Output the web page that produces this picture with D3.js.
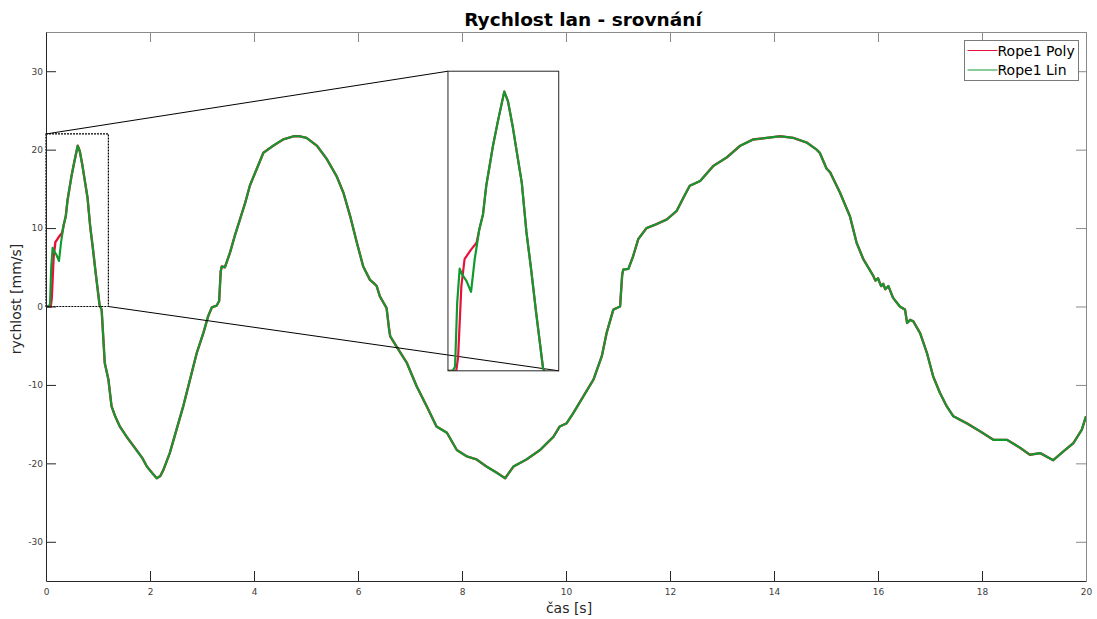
<!DOCTYPE html>
<html>
<head>
<meta charset="utf-8">
<script src="https://cdn.jsdelivr.net/npm/d3@7"></script>
<style>
  body { margin: 0; background: #fff; }
  svg { font-family: "DejaVu Sans", Verdana, sans-serif; }
</style>
</head>
<body>
<div id="chart"></div>
<script>
// start of the run, where the two rope estimates differ
var startTimePoly = [0, 0.09, 0.11, 0.145, 0.18, 0.22, 0.25, 0.31, 0.34];
var startPoly     = [0, 0, 1.0, 6.2, 8.2, 8.6, 8.9, 9.4, 10.4];
var startTimeLin  = [0, 0.05, 0.077, 0.1, 0.127, 0.16, 0.2, 0.25, 0.29, 0.34];
var startLin      = [0, 0, 0.3, 5.0, 7.5, 7.0, 6.6, 5.8, 8.2, 10.4];

// rest of the run, both estimates overlap
var tailTime = [0.38, 0.415, 0.45, 0.487, 0.54, 0.61, 0.65, 0.70, 0.757, 0.80, 0.85, 0.90, 0.955, 1.03, 1.07,
  1.13, 1.20, 1.26, 1.33, 1.42, 1.55, 1.65, 1.74, 1.85, 1.94, 2.05, 2.13, 2.20, 2.26, 2.38, 2.51, 2.64,
  2.77, 2.90, 3.03, 3.12, 3.19, 3.28, 3.33, 3.36, 3.38, 3.44, 3.54, 3.63, 3.73, 3.83, 3.92, 4.05, 4.18,
  4.37, 4.56, 4.76, 4.88, 5.01, 5.21, 5.40, 5.59, 5.72, 5.85, 5.98, 6.10, 6.23, 6.30, 6.36, 6.42, 6.55, 6.60,
  6.62, 6.74, 6.94, 7.13, 7.32, 7.51, 7.71, 7.90, 8.09, 8.28, 8.47, 8.67, 8.83, 8.99, 9.24, 9.50, 9.76,
  9.88, 10.01, 10.14, 10.33, 10.53, 10.69, 10.78, 10.91, 11.04, 11.08, 11.10, 11.20, 11.29, 11.39, 11.55,
  11.74, 11.94, 12.13, 12.26, 12.38, 12.58, 12.83, 13.09, 13.35, 13.60, 13.86, 14.12, 14.37, 14.63, 14.82,
  14.88, 15.01, 15.08, 15.27, 15.46, 15.59, 15.72, 15.91, 15.95, 16.00, 16.06, 16.10, 16.14, 16.20, 16.29,
  16.42, 16.52, 16.56, 16.62, 16.68, 16.81, 16.94, 17.06, 17.19, 17.32, 17.45, 17.71, 17.96, 18.22, 18.48,
  18.73, 18.92, 19.12, 19.37, 19.56, 19.76, 19.92, 20.00];
var tailValues = [11.5, 13.6, 15.0, 16.5, 18.3, 20.5, 19.8, 18.0, 15.6, 13.8, 10.2, 7.5, 4.3, 0.2, -0.4,
  -7.2, -9.3, -12.7, -14.0, -15.3, -16.6, -17.5, -18.3, -19.3, -20.4, -21.3, -21.9, -21.6, -20.8, -18.7, -15.7, -12.7,
  -9.3, -5.9, -3.3, -1.2, -0.1, 0.1, 0.7, 4.5, 5.1, 5.0, 6.9, 9.0, 11.1, 13.2, 15.4, 17.5, 19.6,
  20.5, 21.3, 21.7, 21.7, 21.5, 20.5, 18.8, 16.6, 14.5, 11.5, 8.1, 5.1, 3.4, 3.0, 2.6, 1.3, -0.2, -3.0,
  -3.8, -5.1, -7.2, -10.2, -12.7, -15.3, -16.1, -18.3, -19.1, -19.5, -20.4, -21.2, -21.9, -20.4, -19.5, -18.3, -16.6,
  -15.3, -14.9, -13.6, -11.5, -9.3, -6.3, -3.4, -0.4, 0.0, 4.0, 4.7, 4.8, 6.4, 8.6, 10.0,
  10.5, 11.1, 12.2, 13.9, 15.4, 16.0, 17.9, 19.0, 20.5, 21.3, 21.5, 21.7, 21.5, 20.9, 20.0,
  19.6, 17.6, 17.1, 14.5, 11.5, 8.1, 6.0, 3.9, 3.3, 3.6, 2.6, 2.9, 2.2, 2.6, 1.1,
  0.0, -0.4, -2.1, -1.7, -1.9, -3.4, -5.9, -8.9, -11.0, -12.7, -14.0, -14.9, -15.9, -17.0, -17.0,
  -18.0, -18.9, -18.7, -19.6, -18.5, -17.4, -15.7, -14.0];

var xTicks = [0, 2, 4, 6, 8, 10, 12, 14, 16, 18, 20];
var yTicks = [-30, -20, -10, 0, 10, 20, 30];
var seriesNames = ["Rope1 Poly", "Rope1 Lin"];
var seriesColors = ["#e8103c", "#109a2e"];

var drawChart = function() {
  var w = 1097, h = 619;
  var pLeft = 46, pRight = 1086, pTop = 32, pBottom = 581;

  var polyTime = startTimePoly.concat(tailTime);
  var polyVals = startPoly.concat(tailValues);
  var linTime = startTimeLin.concat(tailTime);
  var linVals = startLin.concat(tailValues);
  var poly = polyTime.map(function(t, i) { return [t, polyVals[i]]; });
  var lin = linTime.map(function(t, i) { return [t, linVals[i]]; });
  var series = [poly, lin];

  var svg = d3.select("#chart").append("svg")
    .attr("width", w)
    .attr("height", h);

  var xScale = d3.scaleLinear().domain([0, 20]).range([pLeft, pRight]);
  var yScale = d3.scaleLinear().domain([-35, 35]).range([pBottom, pTop]);

  var defs = svg.append("defs");
  defs.append("clipPath").attr("id", "plotClip")
    .append("rect")
    .attr("x", pLeft).attr("y", pTop)
    .attr("width", pRight - pLeft).attr("height", pBottom - pTop);

  // main curves
  var line = d3.line()
    .x(function(d) { return xScale(d[0]); })
    .y(function(d) { return yScale(d[1]); });

  svg.append("g").attr("clip-path", "url(#plotClip)")
    .selectAll("path")
    .data(series)
    .enter()
    .append("path")
    .attr("d", line)
    .attr("fill", "none")
    .attr("stroke", function(d, i) { return seriesColors[i]; })
    .attr("stroke-width", function(d, i) { return i == 0 ? 2.4 : 2.1; })
    .attr("stroke-linejoin", "round");

  // zoom window and its magnified copy
  var src = {t0: 0, t1: 1.2, v0: 0, v1: 22};
  var dst = {t0: 7.73, t1: 9.86, v0: -8.2, v1: 30};

  svg.append("rect")
    .attr("x", xScale(src.t0)).attr("y", yScale(src.v1))
    .attr("width", xScale(src.t1) - xScale(src.t0))
    .attr("height", yScale(src.v0) - yScale(src.v1))
    .attr("fill", "none").attr("stroke", "#000").attr("stroke-width", 1.2)
    .attr("stroke-dasharray", "2,1");

  svg.append("line")
    .attr("x1", xScale(src.t0)).attr("y1", yScale(src.v1))
    .attr("x2", xScale(dst.t0)).attr("y2", yScale(dst.v1))
    .attr("stroke", "#000").attr("stroke-width", 1);
  svg.append("line")
    .attr("x1", xScale(src.t1)).attr("y1", yScale(src.v0))
    .attr("x2", xScale(dst.t1)).attr("y2", yScale(dst.v0))
    .attr("stroke", "#000").attr("stroke-width", 1);

  var ix = d3.scaleLinear().domain([src.t0, src.t1]).range([xScale(dst.t0), xScale(dst.t1)]);
  var iy = d3.scaleLinear().domain([src.v0, src.v1]).range([yScale(dst.v0), yScale(dst.v1)]);

  defs.append("clipPath").attr("id", "insetClip")
    .append("rect")
    .attr("x", ix(src.t0)).attr("y", iy(src.v1))
    .attr("width", ix(src.t1) - ix(src.t0))
    .attr("height", iy(src.v0) - iy(src.v1));

  var insetLine = d3.line()
    .x(function(d) { return ix(d[0]); })
    .y(function(d) { return iy(d[1]); });

  svg.append("g").attr("clip-path", "url(#insetClip)")
    .selectAll("path")
    .data(series)
    .enter()
    .append("path")
    .attr("d", insetLine)
    .attr("fill", "none")
    .attr("stroke", function(d, i) { return seriesColors[i]; })
    .attr("stroke-width", 2.2)
    .attr("stroke-linejoin", "round");

  svg.append("rect")
    .attr("x", ix(src.t0)).attr("y", iy(src.v1))
    .attr("width", ix(src.t1) - ix(src.t0))
    .attr("height", iy(src.v0) - iy(src.v1))
    .attr("fill", "none").attr("stroke", "#262626").attr("stroke-width", 1);

  // axes, ticks pointing inward on all four sides
  var tickLen = 10;
  var fmt = function(d) { return String(d); };

  svg.append("g")
    .attr("class", "axis")
    .attr("transform", "translate(0," + pBottom + ")")
    .call(d3.axisBottom(xScale).tickValues(xTicks).tickFormat(fmt).tickSizeInner(-tickLen).tickSizeOuter(0).tickPadding(7.5));
  svg.append("g")
    .attr("class", "axis top")
    .attr("transform", "translate(0," + pTop + ")")
    .call(d3.axisTop(xScale).tickValues(xTicks).tickFormat("").tickSizeInner(-tickLen).tickSizeOuter(0));
  svg.append("g")
    .attr("class", "axis")
    .attr("transform", "translate(" + pLeft + ",0)")
    .call(d3.axisLeft(yScale).tickValues(yTicks).tickFormat(fmt).tickSizeInner(-tickLen).tickSizeOuter(0).tickPadding(3));
  svg.append("g")
    .attr("class", "axis right")
    .attr("transform", "translate(" + pRight + ",0)")
    .call(d3.axisRight(yScale).tickValues(yTicks).tickFormat("").tickSizeInner(-tickLen).tickSizeOuter(0));

  svg.selectAll(".axis text")
    .attr("font-size", 9)
    .attr("fill", "#404040")
    .attr("font-family", "DejaVu Sans");
  svg.selectAll(".axis path, .axis line").attr("stroke", "#262626");
  svg.selectAll(".top path, .top line, .right path, .right line").attr("stroke", "#8a8a8a");

  // title and labels
  svg.append("text")
    .attr("x", 583).attr("y", 26)
    .attr("text-anchor", "middle")
    .attr("font-size", 18.5).attr("font-weight", "bold")
    .attr("fill", "#000")
    .text("Rychlost lan - srovnání");

  svg.append("text")
    .attr("x", 569).attr("y", 612.5)
    .attr("text-anchor", "middle")
    .attr("font-size", 14).attr("fill", "#262626")
    .text("čas [s]");

  svg.append("text")
    .attr("transform", "translate(21,299) rotate(-90)")
    .attr("text-anchor", "middle")
    .attr("font-size", 14).attr("fill", "#262626")
    .text("rychlost [mm/s]");

  // legend
  var legend = svg.append("g").attr("transform", "translate(964.5,40.5)");
  legend.append("rect")
    .attr("width", 114).attr("height", 40)
    .attr("fill", "#fff").attr("stroke", "#7a7a7a").attr("stroke-width", 1);
  var item = legend.selectAll(".item")
    .data(seriesNames)
    .enter()
    .append("g")
    .attr("transform", function(d, i) { return "translate(0," + (10 + i * 19.5) + ")"; });
  item.append("line")
    .attr("x1", 3).attr("x2", 33)
    .attr("stroke", function(d, i) { return seriesColors[i]; })
    .attr("stroke-width", 1);
  item.append("text")
    .attr("x", 33).attr("y", 5)
    .attr("font-size", 14).attr("fill", "#000")
    .text(function(d) { return d; });
};

drawChart();
</script>
</body>
</html>
